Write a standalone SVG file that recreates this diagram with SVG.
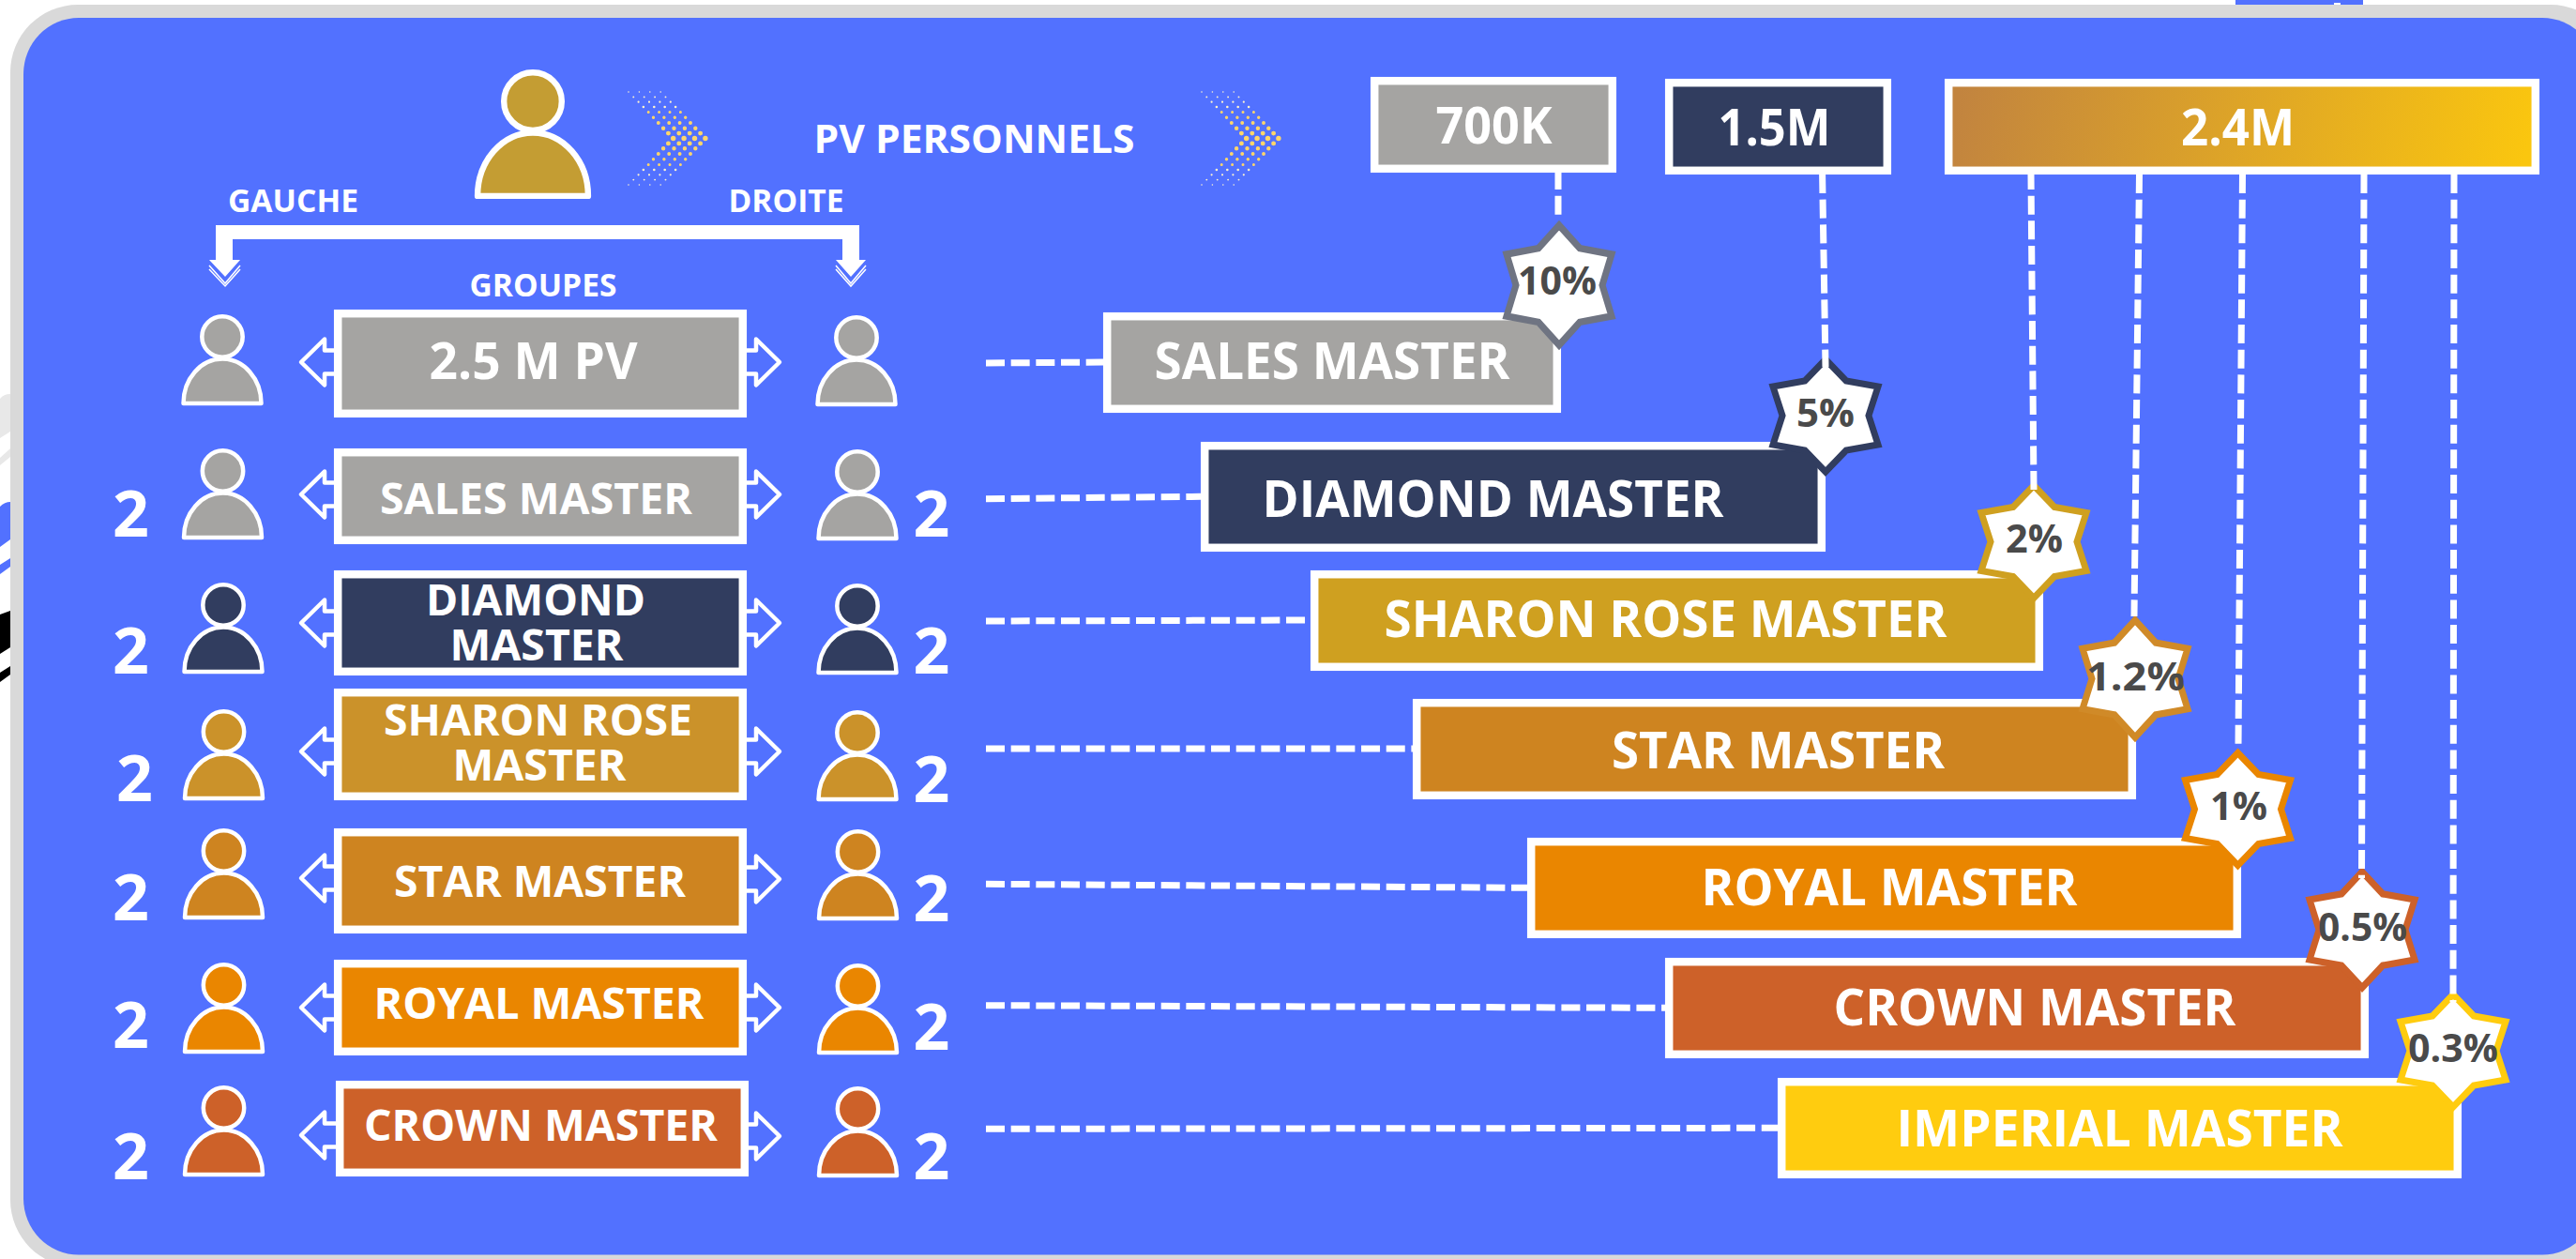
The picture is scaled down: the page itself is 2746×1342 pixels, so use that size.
<svg xmlns="http://www.w3.org/2000/svg" width="2746" height="1342" viewBox="0 0 2746 1342">
<style>
text{font-family:"Open Sans","Noto Sans","Liberation Sans",sans-serif;font-weight:700;fill:#fff}
.box{stroke:#fff;stroke-width:8.5}
.lb{font-size:34px}
.t{font-size:47px}
.tb{font-size:53px}
.n{font-size:68px;font-weight:700;text-anchor:middle}
.p{font-size:41px;font-weight:700;fill:#4a4a4a}
.arr{fill:#5271ff;stroke:#fff;stroke-width:4.5;stroke-linejoin:round}
.dash{fill:none;stroke:#fff;stroke-width:7;stroke-dasharray:20 6.67}
.star{fill:#fff;stroke-width:7;stroke-linejoin:miter;stroke-miterlimit:8}
.d{fill:none;stroke-linecap:round;stroke-dasharray:0 11.4}
.gr{fill:#a5a4a2}.na{fill:#313d5f}.sh{fill:#cb922a}.st{fill:#ce8420}.ro{fill:#ea8600}.cr{fill:#cd6129}
</style>
<defs>
<g id="person" stroke="#fff" stroke-width="4.5" stroke-linejoin="round">
<circle cx="0" cy="24" r="21.7"/>
<path d="M-41.5 95A41.5 47.5 0 0 1 41.5 95Z"/>
</g>
<path id="arrow" class="arr" d="M4 -12.5H-10V-24.5L-35 0L-10 24.5V12.5H4"/>
<polygon id="starshape" class="star" points="0,-60 22,-37 56,-31 46,0 56,31 22,37 0,60 -22,37 -56,31 -46,0 -56,-31 -22,-37"/>
<linearGradient id="g24" gradientUnits="userSpaceOnUse" x1="2100" y1="60" x2="2680" y2="210">
<stop offset="0" stop-color="#c2843f"/><stop offset="1" stop-color="#fac60f"/>
</linearGradient>
<g id="chev">
<g class="d" stroke="#fff3cf">
<path d="M670 98h34.2" stroke-width="1.6"/><path d="M675.3 103.4h34.2" stroke-width="1.9"/><path d="M680.6 108.7h34.2" stroke-width="2.2"/><path d="M685.9 114h34.2" stroke-width="2.6"/>
<path d="M670 197h34.2" stroke-width="1.6"/><path d="M675.3 191.6h34.2" stroke-width="1.9"/><path d="M680.6 186.3h34.2" stroke-width="2.2"/><path d="M685.9 181h34.2" stroke-width="2.6"/>
</g>
<g class="d" stroke="#ffd66a">
<path d="M691.2 119.4h34.2" stroke-width="3"/><path d="M696.5 125.2h34.2" stroke-width="3.4"/><path d="M701.8 131h34.2" stroke-width="3.9"/><path d="M707.1 136.7h34.2" stroke-width="4.4"/><path d="M712.4 142.1h34.2" stroke-width="4.9"/><path d="M717.7 147.5h34.2" stroke-width="5.4"/><path d="M712.4 152.9h34.2" stroke-width="4.9"/><path d="M707.1 158.3h34.2" stroke-width="4.4"/><path d="M701.8 164h34.2" stroke-width="3.9"/><path d="M696.5 169.8h34.2" stroke-width="3.4"/><path d="M691.2 175.6h34.2" stroke-width="3"/>
</g>
</g>
</defs>

<rect width="2746" height="1342" fill="#fff"/>
<g id="fringe">
<path d="M0 425Q4 420 11 420V460L0 467Z" fill="#e8e8e8"/>
<path d="M0 488L11 478V487L0 496Z" fill="#e8e8e8"/>
<path d="M0 540Q5 535 11 535V575L0 583Z" fill="#5271ff"/>
<path d="M0 602L11 595V604L0 612Z" fill="#5271ff"/>
<path d="M0 655L11 651V690L0 697Z" fill="#000"/>
<path d="M0 717L11 710V719L0 727Z" fill="#000"/>
<rect x="2383" y="0" width="136" height="6" fill="#5271ff"/>
<rect x="2488" y="3" width="7" height="3" fill="#fff"/>
</g>
<rect id="panel-border" x="11" y="5" width="2780" height="1346" rx="72" ry="72" fill="#d9d9d9"/>
<rect id="panel" x="25" y="19" width="2744" height="1318.5" rx="59" ry="60" fill="#5271ff"/>

<g id="top-person"><use href="#person" transform="translate(568,74) scale(1.42)" fill="#c49d33"/></g>
<use id="chevron-1" href="#chev"/>
<use id="chevron-2" href="#chev" x="611"/>
<text id="pv-personnels" x="867.5" y="163" font-size="41" textLength="342" lengthAdjust="spacingAndGlyphs">PV PERSONNELS</text>
<text id="gauche" class="lb" x="243" y="226" textLength="139" lengthAdjust="spacingAndGlyphs">GAUCHE</text>
<text id="droite" class="lb" x="776.5" y="226" textLength="123" lengthAdjust="spacingAndGlyphs">DROITE</text>
<text id="groupes" class="lb" x="500.5" y="316" textLength="157" lengthAdjust="spacingAndGlyphs">GROUPES</text>

<g id="connectors">
<path fill="#fff" d="M230 240H916V277H923L907 295L891 277H898V255H248V277H256L240 295L223 277H230Z"/>
<path fill="none" stroke="#fff" stroke-width="1.5" d="M223 283L240 302L256 283M223 287L240 305L256 287M891 283L907 302L923 283M891 287L907 305L923 287"/>
<g class="h">
<path class="dash" d="M1051 387L1176 386"/>
<path class="dash" d="M1051 531.7L1280 529.3"/>
<path class="dash" d="M1051 662L1397 661"/>
<path class="dash" d="M1051 798L1506 798"/>
<path class="dash" d="M1051 942.3L1628 946.3"/>
<path class="dash" d="M1051 1071.7L1775 1074.3"/>
<path class="dash" d="M1051 1203.3L1895 1202.3"/>
</g>
</g>

<g id="group-0"><use href="#arrow" transform="translate(356,386)"/><use href="#arrow" transform="translate(796,386) scale(-1,1)"/><use href="#person" x="237" y="335" class="gr"/><use href="#person" x="913" y="336" class="gr"/><rect class="box gr" x="360.2" y="334.2" width="431.6" height="106.6"/><text class="tb" x="457.5" y="404" textLength="222" lengthAdjust="spacingAndGlyphs">2.5 M PV</text></g>
<g id="group-1"><use href="#arrow" transform="translate(356,527)"/><use href="#arrow" transform="translate(796,527) scale(-1,1)"/><use href="#person" x="237.5" y="478" class="gr"/><use href="#person" x="914" y="479" class="gr"/><rect class="box gr" x="360.2" y="482.2" width="431.6" height="93.6"/><text class="t" x="405" y="548" textLength="333" lengthAdjust="spacingAndGlyphs">SALES MASTER</text><text class="n" x="139.5" y="572">2</text><text class="n" x="993" y="572">2</text></g>
<g id="group-2"><use href="#arrow" transform="translate(356,664)"/><use href="#arrow" transform="translate(796,664) scale(-1,1)"/><use href="#person" x="238" y="621" class="na"/><use href="#person" x="914" y="622" class="na"/><rect class="box na" x="360.2" y="612.2" width="431.6" height="103.6"/><text class="t"><tspan x="454" y="656" textLength="234" lengthAdjust="spacingAndGlyphs">DIAMOND</tspan><tspan x="479.5" y="704" textLength="185" lengthAdjust="spacingAndGlyphs">MASTER</tspan></text><text class="n" x="139.5" y="718">2</text><text class="n" x="993" y="718">2</text></g>
<g id="group-3"><use href="#arrow" transform="translate(356,801)"/><use href="#arrow" transform="translate(796,801) scale(-1,1)"/><use href="#person" x="238.5" y="756" class="sh"/><use href="#person" x="914" y="757" class="sh"/><rect class="box sh" x="360.2" y="738.2" width="431.6" height="110.6"/><text class="t"><tspan x="409" y="784" textLength="329" lengthAdjust="spacingAndGlyphs">SHARON ROSE</tspan><tspan x="482.5" y="832" textLength="185" lengthAdjust="spacingAndGlyphs">MASTER</tspan></text><text class="n" x="143.5" y="854">2</text><text class="n" x="993" y="855">2</text></g>
<g id="group-4"><use href="#arrow" transform="translate(356,936)"/><use href="#arrow" transform="translate(796,937) scale(-1,1)"/><use href="#person" x="238.5" y="883" class="st"/><use href="#person" x="914.5" y="884" class="st"/><rect class="box st" x="360.2" y="887.2" width="431.6" height="103.6"/><text class="t" x="420" y="956" textLength="311" lengthAdjust="spacingAndGlyphs">STAR MASTER</text><text class="n" x="139.5" y="981">2</text><text class="n" x="993" y="982">2</text></g>
<g id="group-5"><use href="#arrow" transform="translate(356,1074)"/><use href="#arrow" transform="translate(796,1074) scale(-1,1)"/><use href="#person" x="238.5" y="1026" class="ro"/><use href="#person" x="914.5" y="1027" class="ro"/><rect class="box ro" x="360.2" y="1027.2" width="431.6" height="93.6"/><text class="t" x="398.5" y="1086" textLength="352" lengthAdjust="spacingAndGlyphs">ROYAL MASTER</text><text class="n" x="139.5" y="1117">2</text><text class="n" x="993" y="1119">2</text></g>
<g id="group-6"><use href="#arrow" transform="translate(356,1210)"/><use href="#arrow" transform="translate(796,1211) scale(-1,1)"/><use href="#person" x="238.5" y="1157" class="cr"/><use href="#person" x="914.5" y="1158" class="cr"/><rect class="box cr" x="362.2" y="1156.2" width="431.6" height="93.6"/><text class="t" x="388" y="1216" textLength="377" lengthAdjust="spacingAndGlyphs">CROWN MASTER</text><text class="n" x="139.5" y="1257">2</text><text class="n" x="993" y="1257">2</text></g>

<g id="pv-700k"><rect class="box gr" x="1465.2" y="86.2" width="253.6" height="93.6"/><text class="tb" x="1530.5" y="153" textLength="124" lengthAdjust="spacingAndGlyphs">700K</text></g>
<g id="pv-1-5m"><rect class="box na" x="1779.2" y="88.2" width="232.6" height="93.6"/><text class="tb" x="1831.5" y="155" textLength="120" lengthAdjust="spacingAndGlyphs">1.5M</text></g>
<g id="pv-2-4m"><rect class="box" fill="url(#g24)" x="2077.2" y="88.2" width="625.6" height="93.6"/><text class="tb" x="2325" y="155" textLength="121" lengthAdjust="spacingAndGlyphs">2.4M</text></g>

<g id="rank-sales"><rect class="box gr" x="1180.2" y="337.2" width="479.6" height="98.6"/><text class="tb" x="1230.5" y="404" textLength="379" lengthAdjust="spacingAndGlyphs">SALES MASTER</text></g>
<g id="rank-diamond"><rect class="box na" x="1284.2" y="475.2" width="657.6" height="108.6"/><text class="tb" x="1345.5" y="551" textLength="492" lengthAdjust="spacingAndGlyphs">DIAMOND MASTER</text></g>
<g id="rank-sharon"><rect class="box" fill="#cfa020" x="1401.2" y="612.2" width="772.6" height="98.6"/><text class="tb" x="1475.5" y="679" textLength="600" lengthAdjust="spacingAndGlyphs">SHARON ROSE MASTER</text></g>
<g id="rank-star"><rect class="box st" x="1510.2" y="749.2" width="762.6" height="98.6"/><text class="tb" x="1718" y="819" textLength="355" lengthAdjust="spacingAndGlyphs">STAR MASTER</text></g>
<g id="rank-royal"><rect class="box ro" x="1632.2" y="897.2" width="752.6" height="98.6"/><text class="tb" x="1813.5" y="965" textLength="401" lengthAdjust="spacingAndGlyphs">ROYAL MASTER</text></g>
<g id="rank-crown"><rect class="box cr" x="1779.2" y="1025.2" width="741.6" height="98.6"/><text class="tb" x="1954.5" y="1093" textLength="429" lengthAdjust="spacingAndGlyphs">CROWN MASTER</text></g>
<g id="rank-imperial"><rect class="box" fill="#ffcc0f" x="1899.2" y="1153.2" width="720.6" height="98.6"/><text class="tb" x="2021.5" y="1222" textLength="476" lengthAdjust="spacingAndGlyphs">IMPERIAL MASTER</text></g>

<g id="star-10"><use href="#starshape" transform="translate(1662,304) scale(1,1.065)" stroke="#6f7482"/><text class="p" x="1618" y="314" textLength="84" lengthAdjust="spacingAndGlyphs">10%</text></g>
<g id="star-5"><use href="#starshape" transform="translate(1946,443)" stroke="#313d5f"/><text class="p" x="1915" y="455" textLength="62" lengthAdjust="spacingAndGlyphs">5%</text></g>
<g id="star-2"><use href="#starshape" transform="translate(2168,577.5)" stroke="#cfa020"/><text class="p" x="2138" y="589" textLength="61" lengthAdjust="spacingAndGlyphs">2%</text></g>
<g id="star-1-2"><use href="#starshape" transform="translate(2276,723.5) scale(1,1.04)" stroke="#d08a28"/><text class="p" x="2224" y="736" textLength="105" lengthAdjust="spacingAndGlyphs">1.2%</text></g>
<g id="star-1"><use href="#starshape" transform="translate(2385.5,862.5)" stroke="#ea8600"/><text class="p" x="2356" y="874" textLength="61" lengthAdjust="spacingAndGlyphs">1%</text></g>
<g id="star-0-5"><use href="#starshape" transform="translate(2518,991) scale(1,1.03)" stroke="#cd6129"/><text class="p" x="2471" y="1003" textLength="95" lengthAdjust="spacingAndGlyphs">0.5%</text></g>
<g id="star-0-3"><use href="#starshape" transform="translate(2615,1120)" stroke="#ffcc0f"/><text class="p" x="2567" y="1132" textLength="96" lengthAdjust="spacingAndGlyphs">0.3%</text></g>

<g id="connectors-vertical">
<path class="dash" stroke-dashoffset="2" d="M1661 184V230"/>
<path class="dash" d="M1942.6 186L1946 391"/>
<path class="dash" stroke-dashoffset="4" d="M2165 186L2168 522"/>
<path class="dash" d="M2280.5 186L2275 657"/>
<path class="dash" d="M2390.5 186L2386 798"/>
<path class="dash" d="M2520 186L2517.5 936"/>
<path class="dash" d="M2616 186L2615 1068"/>
</g>
</svg>
